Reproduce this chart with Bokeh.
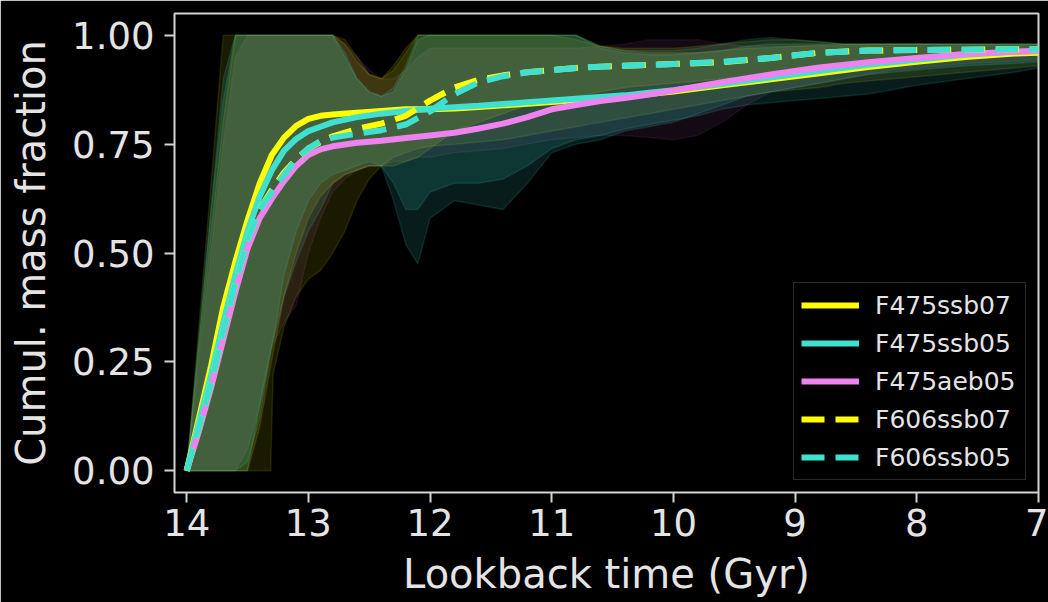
from bokeh.plotting import figure
from bokeh.models import Range1d, FixedTicker, Legend, LegendItem, NumeralTickFormatter
from bokeh.embed import file_html
from bokeh.resources import INLINE

# ---- median cumulative mass fraction curves (lookback time in Gyr) ----
t_line = [14.0, 13.9, 13.8, 13.7, 13.6, 13.5, 13.4, 13.3, 13.2, 13.1, 13.0, 12.9,
          12.8, 12.6, 12.4, 12.2, 12.0, 11.8, 11.6, 11.4, 11.2, 11.0, 10.8, 10.6,
          10.4, 10.2, 10.0, 9.6, 9.2, 8.8, 8.4, 8.0, 7.6, 7.2, 7.0]

f475ssb07 = [0, 0.12, 0.24, 0.375, 0.48, 0.575, 0.66, 0.725, 0.765, 0.792, 0.808, 0.815,
             0.818, 0.822, 0.826, 0.83, 0.83, 0.832, 0.835, 0.839, 0.843, 0.847, 0.851, 0.855,
             0.859, 0.865, 0.871, 0.885, 0.899, 0.913, 0.927, 0.939, 0.95, 0.958, 0.96]
f475ssb05 = [0, 0.11, 0.22, 0.34, 0.45, 0.55, 0.63, 0.69, 0.735, 0.762, 0.78, 0.79,
             0.8, 0.812, 0.82, 0.826, 0.831, 0.835, 0.838, 0.842, 0.846, 0.85, 0.854, 0.858,
             0.862, 0.868, 0.874, 0.888, 0.903, 0.918, 0.932, 0.944, 0.955, 0.962, 0.964]
f475aeb05 = [0, 0.09, 0.19, 0.3, 0.41, 0.51, 0.58, 0.625, 0.665, 0.7, 0.725, 0.738,
             0.745, 0.753, 0.758, 0.764, 0.77, 0.776, 0.786, 0.797, 0.812, 0.83, 0.84, 0.849,
             0.856, 0.864, 0.873, 0.892, 0.91, 0.926, 0.938, 0.948, 0.957, 0.962, 0.964]
f606ssb07 = [0, 0.1, 0.2, 0.32, 0.43, 0.53, 0.6, 0.645, 0.685, 0.715, 0.74, 0.755,
             0.768, 0.785, 0.797, 0.815, 0.85, 0.88, 0.898, 0.908, 0.915, 0.92, 0.925, 0.928,
             0.93, 0.932, 0.934, 0.938, 0.948, 0.96, 0.965, 0.966, 0.967, 0.968, 0.968]
f606ssb05 = [0, 0.1, 0.2, 0.32, 0.43, 0.53, 0.6, 0.64, 0.68, 0.715, 0.74, 0.757,
             0.765, 0.774, 0.782, 0.795, 0.825, 0.865, 0.892, 0.906, 0.915, 0.92, 0.925, 0.928,
             0.93, 0.932, 0.934, 0.939, 0.948, 0.96, 0.965, 0.966, 0.967, 0.968, 0.968]

# ---- uncertainty envelopes (lower / upper bounds) ----
t_band = [14.0, 13.9, 13.8, 13.7, 13.6, 13.5, 13.4, 13.31, 13.29, 13.2, 13.1, 13.0,
          12.9, 12.8, 12.7, 12.6, 12.5, 12.4, 12.3, 12.2, 12.1, 12.0, 11.8, 11.6,
          11.4, 11.2, 11.0, 10.8, 10.6, 10.4, 10.2, 10.0, 9.8, 9.6, 9.4, 9.2,
          9.0, 8.8, 8.6, 8.4, 8.2, 8.0, 7.6, 7.2, 7.0]

f475ssb07_lo = [0, 0, 0, 0, 0, 0, 0, 0, 0.22, 0.33, 0.40, 0.44,
                0.46, 0.50, 0.55, 0.62, 0.67, 0.70, 0.72, 0.73, 0.74, 0.745, 0.75, 0.755,
                0.76, 0.77, 0.78, 0.79, 0.80, 0.81, 0.82, 0.83, 0.84, 0.85, 0.86, 0.87,
                0.875, 0.88, 0.89, 0.895, 0.90, 0.905, 0.915, 0.925, 0.93]
f475ssb07_hi = [0, 0.33, 0.66, 1.0, 1.0, 1.0, 1.0, 1.0, 1.0, 1.0, 1.0, 1.0,
                1.0, 1.0, 0.98, 0.94, 0.91, 0.90, 0.93, 0.97, 1.0, 1.0, 1.0, 1.0,
                1.0, 1.0, 1.0, 1.0, 0.975, 0.965, 0.96, 0.96, 0.96, 0.965, 0.97, 0.972,
                0.975, 0.977, 0.978, 0.979, 0.98, 0.98, 0.98, 0.98, 0.98]

f475ssb05_lo = [0, 0, 0, 0, 0, 0, 0.15, 0.28, 0.30, 0.40, 0.48, 0.55,
                0.60, 0.66, 0.68, 0.69, 0.70, 0.70, 0.66, 0.60, 0.60, 0.64, 0.66, 0.66,
                0.67, 0.70, 0.74, 0.76, 0.77, 0.785, 0.795, 0.805, 0.815, 0.83, 0.84, 0.845,
                0.85, 0.855, 0.86, 0.865, 0.875, 0.885, 0.90, 0.915, 0.925]
f475ssb05_hi = [0, 0.3, 0.6, 0.9, 1.0, 1.0, 1.0, 1.0, 1.0, 1.0, 1.0, 1.0,
                1.0, 1.0, 0.95, 0.90, 0.87, 0.86, 0.87, 0.92, 0.99, 1.0, 1.0, 1.0,
                1.0, 1.0, 1.0, 1.0, 0.97, 0.96, 0.955, 0.955, 0.96, 0.965, 0.975, 0.98,
                0.98, 0.98, 0.98, 0.98, 0.98, 0.98, 0.98, 0.98, 0.98]

f475aeb05_lo = [0, 0, 0, 0, 0, 0.05, 0.15, 0.27, 0.29, 0.34, 0.38, 0.50,
                0.58, 0.64, 0.67, 0.69, 0.70, 0.70, 0.71, 0.71, 0.72, 0.72, 0.73, 0.735,
                0.74, 0.75, 0.76, 0.765, 0.77, 0.77, 0.765, 0.76, 0.77, 0.80, 0.84, 0.87,
                0.88, 0.89, 0.90, 0.91, 0.92, 0.925, 0.935, 0.94, 0.945]
f475aeb05_hi = [0, 0.25, 0.5, 0.75, 0.95, 1.0, 1.0, 1.0, 1.0, 1.0, 1.0, 1.0,
                1.0, 1.0, 0.98, 0.95, 0.92, 0.90, 0.90, 0.92, 0.95, 0.97, 0.97, 0.97,
                0.97, 0.97, 0.97, 0.97, 0.975, 0.98, 0.99, 0.99, 0.99, 0.98, 0.975, 0.975,
                0.975, 0.975, 0.975, 0.975, 0.975, 0.975, 0.975, 0.975, 0.975]

f606ssb07_lo = [0, 0, 0, 0, 0, 0, 0.10, 0.24, 0.27, 0.40, 0.50, 0.58,
                0.63, 0.66, 0.68, 0.69, 0.70, 0.70, 0.70, 0.71, 0.72, 0.74, 0.78, 0.80,
                0.82, 0.84, 0.85, 0.86, 0.87, 0.88, 0.885, 0.89, 0.895, 0.90, 0.905, 0.91,
                0.92, 0.93, 0.935, 0.94, 0.945, 0.95, 0.955, 0.958, 0.96]
f606ssb07_hi = [0, 0.28, 0.55, 0.8, 1.0, 1.0, 1.0, 1.0, 1.0, 1.0, 1.0, 1.0,
                1.0, 1.0, 0.99, 0.95, 0.91, 0.90, 0.92, 0.96, 1.0, 1.0, 1.0, 1.0,
                1.0, 1.0, 1.0, 0.99, 0.975, 0.97, 0.97, 0.97, 0.975, 0.98, 0.985, 0.99,
                0.99, 0.985, 0.98, 0.98, 0.98, 0.98, 0.978, 0.978, 0.978]

f606ssb05_lo = [0, 0, 0, 0, 0, 0.02, 0.12, 0.27, 0.30, 0.45, 0.55, 0.62,
                0.66, 0.68, 0.69, 0.70, 0.71, 0.70, 0.62, 0.52, 0.475, 0.58, 0.62, 0.61,
                0.60, 0.66, 0.73, 0.75, 0.76, 0.78, 0.79, 0.80, 0.82, 0.84, 0.86, 0.87,
                0.88, 0.89, 0.90, 0.91, 0.915, 0.92, 0.93, 0.935, 0.94]
f606ssb05_hi = [0, 0.3, 0.6, 0.85, 1.0, 1.0, 1.0, 1.0, 1.0, 1.0, 1.0, 1.0,
                1.0, 1.0, 0.96, 0.90, 0.87, 0.86, 0.88, 0.93, 1.0, 1.0, 1.0, 1.0,
                1.0, 1.0, 1.0, 1.0, 0.975, 0.965, 0.965, 0.965, 0.97, 0.98, 0.99, 0.995,
                0.99, 0.985, 0.98, 0.98, 0.98, 0.98, 0.98, 0.98, 0.98]

x_ticks = [14, 13, 12, 11, 10, 9, 8, 7]
y_ticks = [0.0, 0.25, 0.5, 0.75, 1.0]

YELLOW, CYAN, PINK = "#ffff00", "#40e0d0", "#ee82ee"
FG = "#e4e4e4"
SPINE = "#d4d4d4"
FONT = "DejaVu Sans"

# name, median, lower, upper, colour, dash, envelope opacity
series = [
    ("F475ssb07", f475ssb07, f475ssb07_lo, f475ssb07_hi, YELLOW, "solid", 0.10),
    ("F475ssb05", f475ssb05, f475ssb05_lo, f475ssb05_hi, CYAN, "solid", 0.13),
    ("F475aeb05", f475aeb05, f475aeb05_lo, f475aeb05_hi, PINK, "solid", 0.08),
    ("F606ssb07", f606ssb07, f606ssb07_lo, f606ssb07_hi, YELLOW, "23 11", 0.10),
    ("F606ssb05", f606ssb05, f606ssb05_lo, f606ssb05_hi, CYAN, "23 11", 0.13),
]

p = figure(width=1048, height=602, output_backend="svg", toolbar_location=None,
           x_range=Range1d(14.1, 7.0), y_range=Range1d(-0.05, 1.05),
           min_border_left=174, min_border_right=10, min_border_top=13,
           min_border_bottom=110,
           background_fill_color="black", border_fill_color="black")

p.grid.visible = False
p.outline_line_color = SPINE
p.outline_line_width = 2

for ax in (p.xaxis[0], p.yaxis[0]):
    ax.axis_line_color = None
    ax.major_tick_in = 0
    ax.major_tick_out = 10
    ax.major_tick_line_color = SPINE
    ax.major_tick_line_width = 2
    ax.minor_tick_line_color = None
    ax.major_label_text_font = FONT
    ax.major_label_text_font_size = "37px"
    ax.major_label_text_color = FG
    ax.axis_label_text_font = FONT
    ax.axis_label_text_font_size = "40px"
    ax.axis_label_text_font_style = "normal"
    ax.axis_label_text_color = FG

p.xaxis.ticker = FixedTicker(ticks=x_ticks)
p.yaxis.ticker = FixedTicker(ticks=y_ticks)
p.yaxis.formatter = NumeralTickFormatter(format="0.00")
p.xaxis.major_label_standoff = 6
p.yaxis.major_label_standoff = 10
p.xaxis.axis_label = "Lookback time (Gyr)"
p.yaxis.axis_label = "Cumul. mass fraction"
p.xaxis.axis_label_standoff = 12
p.yaxis.axis_label_standoff = 15

# shaded envelopes first, lines on top
for name, med, lo, hi, color, dash, alpha in series:
    xs = t_band + t_band[::-1]
    ys = lo + hi[::-1]
    p.patch(xs, ys, fill_color=color, fill_alpha=alpha,
            line_color=color, line_alpha=alpha, line_width=1.5)

items = []
for name, med, lo, hi, color, dash, alpha in series:
    r = p.line(t_line, med, line_color=color, line_width=6, line_dash=dash)
    items.append(LegendItem(label=name, renderers=[r]))

legend = Legend(items=items, location=(619, 12), margin=0, padding=7,
                spacing=8, glyph_width=58, glyph_height=30, label_height=30,
                label_width=143, label_standoff=16,
                label_text_font=FONT, label_text_font_size="25px",
                label_text_color=FG,
                background_fill_color="black", background_fill_alpha=0.8,
                border_line_color="#555555", border_line_width=1.5)
p.add_layout(legend)

open("out.html", "w").write(file_html(p, INLINE))
